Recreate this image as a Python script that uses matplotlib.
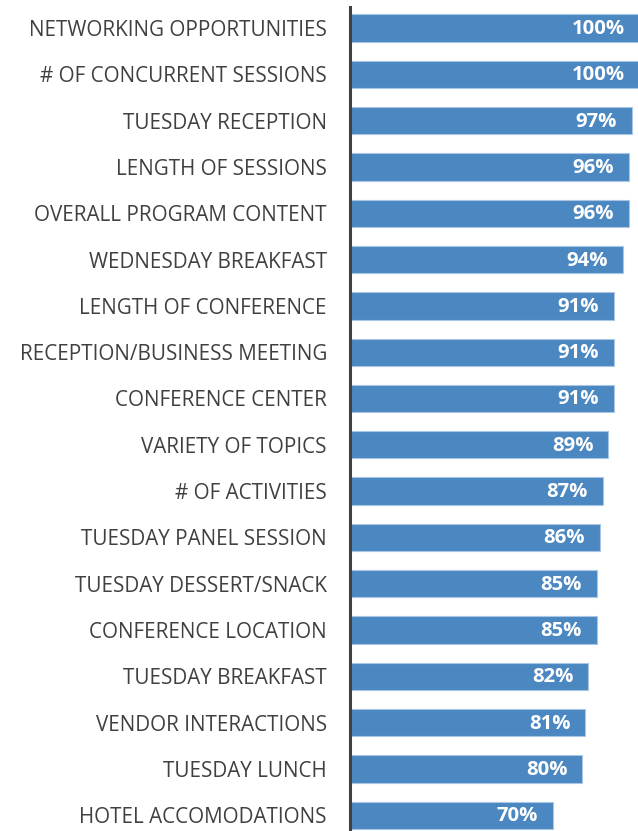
import matplotlib
matplotlib.use("Agg")
import matplotlib.pyplot as plt
from matplotlib.transforms import offset_copy

categories = [
    "NETWORKING OPPORTUNITIES",
    "# OF CONCURRENT SESSIONS",
    "TUESDAY RECEPTION",
    "LENGTH OF SESSIONS",
    "OVERALL PROGRAM CONTENT",
    "WEDNESDAY BREAKFAST",
    "LENGTH OF CONFERENCE",
    "RECEPTION/BUSINESS MEETING",
    "CONFERENCE CENTER",
    "VARIETY OF TOPICS",
    "# OF ACTIVITIES",
    "TUESDAY PANEL SESSION",
    "TUESDAY DESSERT/SNACK",
    "CONFERENCE LOCATION",
    "TUESDAY BREAKFAST",
    "VENDOR INTERACTIONS",
    "TUESDAY LUNCH",
    "HOTEL ACCOMODATIONS",
]
values = [100, 100, 97, 96, 96, 94, 91, 91, 91, 89, 87, 86, 85, 85, 82, 81, 80, 70]
value_labels = [f"{v}%" for v in values]

W, H = 638, 831
fig = plt.figure(figsize=(W / 100, H / 100), dpi=100)
left = 350.5 / W
ax = fig.add_axes([left, 0.0, 1.0 - left, 1 - 7 / H])

ypos = list(range(len(categories)))
ax.barh(ypos, values, height=0.59, color="#4B87C0", edgecolor="#A9C6E6", linewidth=0.8)

ax.set_xlim(0, 99.2)
ax.set_ylim(17.34, -0.454)

ax.set_yticks(ypos)
ax.set_yticklabels(categories, fontsize=14.9, color="#404040", family=["Open Sans", "DejaVu Sans"])
ax.tick_params(axis="y", length=0, pad=17)
ax.set_xticks([])

for s in ["top", "right", "bottom"]:
    ax.spines[s].set_visible(False)
ax.spines["left"].set_color("#404040")
ax.spines["left"].set_linewidth(2.2)

for y, v, lab in zip(ypos, values, value_labels):
    tr = offset_copy(ax.transData, fig=fig, x=-15, y=-1, units="dots")
    ax.text(v, y, lab, transform=tr, ha="right", va="center", color="white",
            fontsize=14.6, fontweight="bold", family=["Open Sans", "DejaVu Sans"], clip_on=False)

fig.savefig("out.png", dpi=100)
